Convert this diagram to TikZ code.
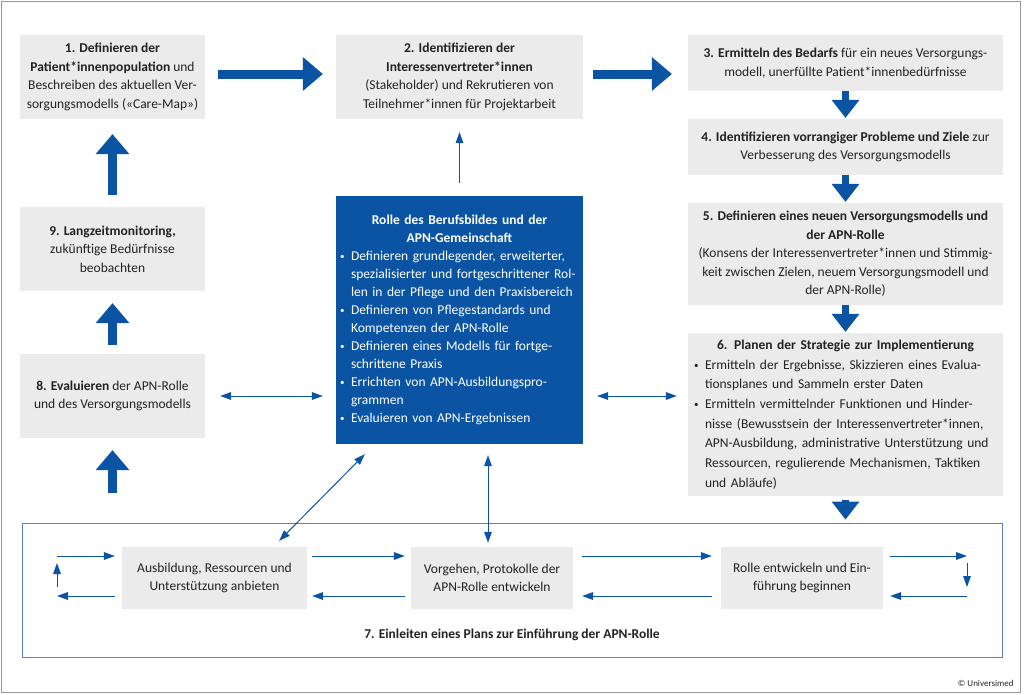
\documentclass[tikz,border=0pt]{standalone}
\usepackage{fontspec}
\setmainfont{Carlito}
\usetikzlibrary{positioning,calc,arrows.meta}
\definecolor{apnblue} {RGB}{ 11, 84,164}
\definecolor{frameblue}{RGB}{ 92,128,196}
\definecolor{boxgray} {RGB}{235,235,235}
\definecolor{txt}     {RGB}{ 34, 34, 34}
\definecolor{edgegray}{RGB}{150,150,150}
\newcommand{\bul}{\makebox[11pt][l]{\raisebox{1pt}{\fontsize{9}{9}\selectfont\textbullet}}}
\newcommand{\ind}{\hspace*{11pt}}
\tikzset{%
  stepbox/.style = {
    fill = boxgray,
    text = txt,
    align = center,
    inner sep = 0pt,
    font = \fontsize{13.5}{18.5}\selectfont,
  },
  bigarrow/.style = {
    color = apnblue,
    line width = 9pt,
    -{Triangle[width = 34pt, length = 20pt, line width = 0pt]},
  },
  downarrow/.style = {
    color = apnblue,
    line width = 7pt,
    -{Triangle[width = 28pt, length = 18pt, line width = 0pt]},
  },
  thinarrow/.style = {
    color = apnblue,
    line width = 1pt,
    -{Triangle[width = 8pt, length = 11pt, line width = 0pt]},
  },
  twoway/.style = {
    color = apnblue,
    line width = 1pt,
    {Triangle[width = 8pt, length = 11pt, line width = 0pt]}-{Triangle[width = 8pt, length = 11pt, line width = 0pt]},
  },
}

\begin{document}
\begin{tikzpicture}[x = 1pt, y = -1pt]
  \useasboundingbox (0,0) rectangle (1024,694);
  \draw[edgegray, line width = 1pt] (1,1) rectangle (1020,692);

  % implementation frame (step 7)
  \node[draw = frameblue, line width = 1pt, minimum width = 980, minimum height = 134, inner sep = 0pt] (impl) at (512,590) {};
  \node[text = txt, font = \fontsize{13.5}{16}\selectfont\bfseries] (lab7) at (512,635)
    {7. Einleiten eines Plans zur Einführung der APN-Rolle};

  % steps
  \node[stepbox, minimum width = 185, minimum height = 84] (b1) at (112.5,77)
    {\textbf{1. Definieren der}\\ \textbf{Patient*innenpopulation} und\\ Beschreiben des aktuellen Ver-\\ sorgungsmodells («Care-Map»)};
  \node[stepbox, minimum width = 247, minimum height = 84] (b2) at (459.5,77)
    {\textbf{2. Identifizieren der}\\ \textbf{Interessenvertreter*innen}\\ (Stakeholder) und Rekrutieren von\\ Teilnehmer*innen für Projektarbeit};
  \node[stepbox, minimum width = 315, minimum height = 56] (b3) at (845.5,63)
    {\textbf{3. Ermitteln des Bedarfs} für ein neues Versorgungs-\\ modell, unerfüllte Patient*innenbedürfnisse};
  \node[stepbox, minimum width = 315, minimum height = 56] (b4) at (845.5,147)
    {\textbf{4. Identifizieren vorrangiger Probleme und Ziele} zur\\ Verbesserung des Versorgungsmodells};
  \node[stepbox, minimum width = 315, minimum height = 102] (b5) at (845.5,254)
    {\textbf{5. Definieren eines neuen Versorgungsmodells und}\\ \textbf{der APN-Rolle}\\ (Konsens der Interessenvertreter*innen und Stimmig-\\ keit zwischen Zielen, neuem Versorgungsmodell und\\ der APN-Rolle)};
  \node[stepbox, align = left, text width = 303, inner xsep = 6pt, minimum height = 163,
        font = \fontsize{13.5}{19.7}\selectfont] (b6) at (845.5,414.5)
    {{\centering\bfseries 6. Planen der Strategie zur Implementierung\par}
     \bul Ermitteln der Ergebnisse, Skizzieren eines Evalua-\\
     \ind tionsplanes und Sammeln erster Daten\\
     \bul Ermitteln vermittelnder Funktionen und Hinder-\\
     \ind nisse (Bewusstsein der Interessenvertreter*innen,\\
     \ind APN-Ausbildung, administrative Unterstützung und\\
     \ind Ressourcen, regulierende Mechanismen, Taktiken\\
     \ind und Abläufe)};
  \node[stepbox, minimum width = 185, minimum height = 84] (b9) at (112.5,249)
    {\textbf{9. Langzeitmonitoring,}\\ zukünftige Bedürfnisse\\ beobachten};
  \node[stepbox, minimum width = 185, minimum height = 84] (b8) at (112.5,396)
    {\textbf{8. Evaluieren} der APN-Rolle\\ und des Versorgungsmodells};

  % role of the profession
  \node[stepbox, fill = apnblue, text = white, align = left, text width = 239, inner xsep = 4pt,
        minimum height = 248, font = \fontsize{13.5}{18}\selectfont] (rolle) at (459.5,320)
    {{\centering\bfseries Rolle des Berufsbildes und der\\ APN-Gemeinschaft\par}
     \bul Definieren grundlegender, erweiterter,\\
     \ind spezialisierter und fortgeschrittener Rol-\\
     \ind len in der Pflege und den Praxisbereich\\
     \bul Definieren von Pflegestandards und\\
     \ind Kompetenzen der APN-Rolle\\
     \bul Definieren eines Modells für fortge-\\
     \ind schrittene Praxis\\
     \bul Errichten von APN-Ausbildungspro-\\
     \ind grammen\\
     \bul Evaluieren von APN-Ergebnissen};

  % inner loop of step 7
  \node[stepbox, minimum width = 185, minimum height = 62] (ausb) at (214.5,578)
    {Ausbildung, Ressourcen und\\ Unterstützung anbieten};
  \node[stepbox, minimum width = 162, minimum height = 62] (vorg) at (492,578)
    {Vorgehen, Protokolle der\\ APN-Rolle entwickeln};
  \node[stepbox, minimum width = 162, minimum height = 62] (entw) at (802,578)
    {Rolle entwickeln und Ein-\\ führung beginnen};

  \node[anchor = east, text = txt, font = \fontsize{9}{11}\selectfont] (copy) at (1017,683) {© Universimed};

  % main cycle
  \draw[bigarrow, shorten <=13pt, shorten >=13pt] ($(b1.east)+(0,-3)$) -- ($(b2.west)+(0,-3)$);
  \draw[bigarrow, shorten <=10pt, shorten >=16pt] ($(b2.east)+(0,-3)$) -- ($(b2.east -| b3.west)+(0,-3)$);
  \draw[downarrow, shorten >=1pt] (b3) -- (b4);
  \draw[downarrow, shorten >=1pt] (b4) -- (b5);
  \draw[downarrow, shorten >=1pt] (b5) -- (b6);
  \draw[downarrow, shorten <=4pt, shorten >=3pt] (b6.south) -- (b6.south |- impl.north);
  \draw[bigarrow, shorten <=30pt, shorten >=12pt] (impl.north -| b8) -- (b8.south);
  \draw[bigarrow, shorten <=9pt, shorten >=12pt] (b8) -- (b9);
  \draw[bigarrow, shorten <=12pt, shorten >=15pt] (b9) -- (b1);

  % links to the role box
  \draw[thinarrow, shorten <=13pt, shorten >=13pt] (rolle) -- (b2);
  \draw[twoway, shorten <=15pt, shorten >=13pt] (b8.east) -- (b8.east -| rolle.west);
  \draw[twoway, shorten <=14pt, shorten >=11pt] (b8.east -| rolle.east) -- (b8.east -| b6.west);
  \draw[twoway] ($(rolle.south west)+(29,10)$) -- ($(ausb.north east)+(-28,-6)$);
  \draw[twoway] ($(vorg.north |- rolle.south)+(-4,11)$) -- ($(vorg.north)+(-4,-4)$);

  % loop arrows
  \coordinate (lt) at (57,556);
  \coordinate (lb) at (57,596);
  \coordinate (rt) at (967,556);
  \coordinate (rb) at (967,596);
  \draw[thinarrow, shorten >=7pt] (lt) -- (lt -| ausb.west);
  \draw[thinarrow, shorten <=7pt] (lb -| ausb.west) -- (lb);
  \draw[thinarrow, shorten <=9pt, shorten >=7pt] (lb) -- (lt);
  \draw[thinarrow, shorten <=5pt, shorten >=6pt] (lt -| ausb.east) -- (lt -| vorg.west);
  \draw[thinarrow, shorten <=6pt, shorten >=5pt] (lb -| vorg.west) -- (lb -| ausb.east);
  \draw[thinarrow, shorten <=9pt, shorten >=9pt] (lt -| vorg.east) -- (lt -| entw.west);
  \draw[thinarrow, shorten <=9pt, shorten >=9pt] (lb -| entw.west) -- (lb -| vorg.east);
  \draw[thinarrow, shorten <=7pt] (lt -| entw.east) -- (rt);
  \draw[thinarrow, shorten <=7pt, shorten >=9pt] (rt) -- (rb);
  \draw[thinarrow, shorten >=7pt] (rb) -- (rb -| entw.east);
\end{tikzpicture}
\end{document}
